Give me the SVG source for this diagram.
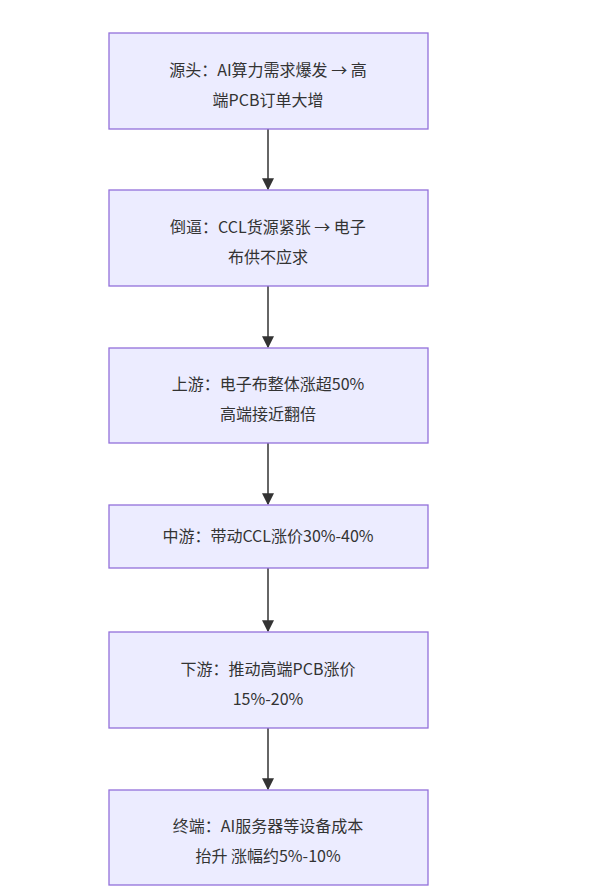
<svg xmlns="http://www.w3.org/2000/svg" width="600" height="891" viewBox="0 0 600 891">
<style>
.n{fill:#ECECFF;stroke:#9370DB;stroke-width:1.3}
.t{font-family:"Noto Sans CJK SC","Liberation Sans",sans-serif;font-size:16px;fill:#333;text-anchor:middle}
.e{stroke:#333;stroke-width:1.5;fill:none;marker-end:url(#a)}
</style>
<defs><marker id="a" viewBox="0 0 10 10" refX="9" refY="5" markerWidth="8" markerHeight="8" orient="auto"><path d="M0,0L10,5L0,10z" fill="#333"/></marker></defs>
<rect width="600" height="891" fill="#fff"/>
<g id="edges">
<path class="e" d="M268,129V189"/>
<path class="e" d="M268,286V347"/>
<path class="e" d="M268,443V504"/>
<path class="e" d="M268,568V631"/>
<path class="e" d="M268,728V789"/>
</g>
<g id="n1"><rect class="n" x="109" y="33" width="319" height="96"/><text class="t" x="268" y="76">源头：AI算力需求爆发 → 高</text><text class="t" x="268" y="106">端PCB订单大增</text></g>
<g id="n2"><rect class="n" x="109" y="190" width="319" height="96"/><text class="t" x="268" y="233">倒逼：CCL货源紧张 → 电子</text><text class="t" x="268" y="263">布供不应求</text></g>
<g id="n3"><rect class="n" x="109" y="348" width="319" height="95"/><text class="t" x="268" y="390">上游：电子布整体涨超50%</text><text class="t" x="268" y="420">高端接近翻倍</text></g>
<g id="n4"><rect class="n" x="109" y="505" width="319" height="63"/><text class="t" x="268" y="542">中游：带动CCL涨价30%-40%</text></g>
<g id="n5"><rect class="n" x="109" y="632" width="319" height="96"/><text class="t" x="268" y="675">下游：推动高端PCB涨价</text><text class="t" x="268" y="705">15%-20%</text></g>
<g id="n6"><rect class="n" x="109" y="790" width="319" height="95"/><text class="t" x="268" y="832">终端：AI服务器等设备成本</text><text class="t" x="268" y="862">抬升 涨幅约5%-10%</text></g>
</svg>
